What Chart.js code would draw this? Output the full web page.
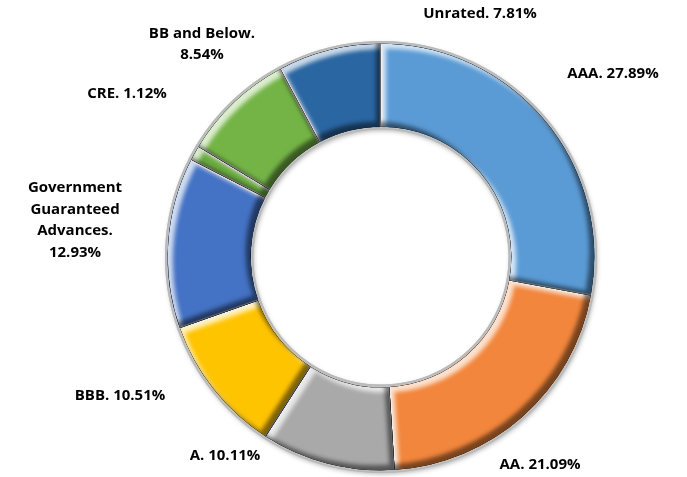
<!DOCTYPE html>
<html>
<head>
<meta charset="utf-8">
<script src="https://cdn.jsdelivr.net/npm/chart.js@4.4.1/dist/chart.umd.min.js"></script>
<style>
  html, body { margin: 0; padding: 0; background: #ffffff; }
  #wrap { width: 687px; height: 477px; position: relative; }
</style>
</head>
<body>
<div id="wrap"><canvas id="c" width="687" height="477"></canvas></div>
<script>
// ---- data ----
const categories = ["AAA", "AA", "A", "BBB", "Government Guaranteed Advances", "CRE", "BB and Below", "Unrated"];
const shares = [27.89, 21.09, 10.11, 10.51, 12.93, 1.12, 8.54, 7.81];
const sliceColors = ["#5B9BD5", "#F2863C", "#A9A9A9", "#FFC400", "#4472C4", "#6AAA40", "#74B446", "#2A66A2"];

// label layout (offsets from ring centre, in pixels; wrap width)
const labelOffsets = [[232, -183], [159, 208], [-156, 199], [-261, 139], [-306, -37], [-254, -163], [-179, -213], [99, -243]];
const labelWrap = [400, 400, 400, 400, 105, 400, 115, 400];

const LABEL_FONT = 'bold 15px "Open Sans", "Noto Sans", sans-serif';
const LINE_H = 21.5;

function addArc(ctx, p, inset) {
  const ro = p.outerRadius - inset, ri = p.innerRadius + inset;
  ctx.moveTo(p.x + ro * Math.cos(p.startAngle), p.y + ro * Math.sin(p.startAngle));
  ctx.arc(p.x, p.y, ro, p.startAngle, p.endAngle);
  ctx.arc(p.x, p.y, ri, p.endAngle, p.startAngle, true);
  ctx.closePath();
}

const bevelPlugin = {
  id: 'bevel',
  beforeDatasetsDraw(chart) {
    // soft drop shadow under the ring
    const ctx = chart.ctx;
    const meta = chart.getDatasetMeta(0);
    const p = meta.data[0].getProps(['x', 'y', 'innerRadius', 'outerRadius'], true);
    ctx.save();
    ctx.shadowColor = 'rgba(0,0,0,0.35)';
    ctx.shadowBlur = 5;
    ctx.shadowOffsetX = 1;
    ctx.shadowOffsetY = 2;
    ctx.fillStyle = '#d0d0d0';
    ctx.beginPath();
    ctx.arc(p.x, p.y, p.outerRadius, 0, Math.PI * 2);
    ctx.arc(p.x, p.y, p.innerRadius, Math.PI * 2, 0, true);
    ctx.fill('evenodd');
    ctx.restore();
  },
  afterDatasetsDraw(chart) {
    const ctx = chart.ctx;
    const meta = chart.getDatasetMeta(0);
    meta.data.forEach((el) => {
      const p = el.getProps(['x', 'y', 'startAngle', 'endAngle', 'innerRadius', 'outerRadius'], true);
      const passes = [
        { color: 'rgba(255,255,255,0.75)', dx: 5, dy: 5, blur: 4 },
        { color: 'rgba(0,0,0,0.5)', dx: -5, dy: -5, blur: 4 }
      ];
      passes.forEach((ps) => {
        ctx.save();
        ctx.beginPath();
        addArc(ctx, p, 1.5);
        ctx.clip();
        ctx.beginPath();
        ctx.rect(-2000, -2000, 5000, 5000);
        addArc(ctx, p, 1.5);
        ctx.shadowColor = ps.color;
        ctx.shadowBlur = ps.blur;
        ctx.shadowOffsetX = ps.dx;
        ctx.shadowOffsetY = ps.dy;
        ctx.fillStyle = '#000';
        ctx.fill('evenodd');
        ctx.restore();
      });
    });
    // outer and inner rim
    const first = meta.data[0].getProps(['x', 'y', 'innerRadius', 'outerRadius'], true);
    ctx.save();
    ctx.strokeStyle = '#B8B8B8';
    ctx.lineWidth = 1.5;
    ctx.beginPath();
    ctx.arc(first.x, first.y, first.outerRadius + 0.5, 0, Math.PI * 2);
    ctx.stroke();
    ctx.beginPath();
    ctx.arc(first.x, first.y, first.innerRadius - 0.5, 0, Math.PI * 2);
    ctx.stroke();
    ctx.restore();
  }
};

function wrapText(ctx, text, maxW) {
  const words = text.split(' ');
  const lines = [];
  let cur = '';
  words.forEach((w) => {
    const t = cur ? cur + ' ' + w : w;
    if (cur && ctx.measureText(t).width > maxW) {
      lines.push(cur);
      cur = w;
    } else {
      cur = t;
    }
  });
  if (cur) lines.push(cur);
  return lines;
}

const labelPlugin = {
  id: 'sliceLabels',
  afterDraw(chart) {
    const ctx = chart.ctx;
    const meta = chart.getDatasetMeta(0);
    const labels = chart.data.labels;
    const vals = chart.data.datasets[0].data;
    ctx.save();
    ctx.font = LABEL_FONT;
    ctx.fillStyle = '#000000';
    ctx.textAlign = 'center';
    ctx.textBaseline = 'middle';
    meta.data.forEach((el, i) => {
      const p = el.getProps(['x', 'y'], true);
      const text = labels[i] + '. ' + vals[i].toFixed(2) + '%';
      const lines = wrapText(ctx, text, labelWrap[i]);
      const cx = p.x + labelOffsets[i][0];
      const cy = p.y + labelOffsets[i][1];
      const top = cy - (lines.length - 1) * LINE_H / 2;
      lines.forEach((ln, k) => ctx.fillText(ln, cx, top + k * LINE_H));
    });
    ctx.restore();
  }
};

new Chart(document.getElementById('c'), {
  type: 'doughnut',
  data: {
    labels: categories,
    datasets: [{
      data: shares,
      backgroundColor: sliceColors,
      borderColor: '#C4C4C4',
      borderWidth: 2.5,
      borderJoinStyle: 'miter'
    }]
  },
  options: {
    responsive: false,
    animation: false,
    cutout: '60%',
    rotation: 0,
    layout: { padding: { left: 165, right: 90, top: 41, bottom: 4 } },
    plugins: {
      legend: { display: false },
      tooltip: { enabled: false }
    }
  },
  plugins: [bevelPlugin, labelPlugin]
});
</script>
</body>
</html>
